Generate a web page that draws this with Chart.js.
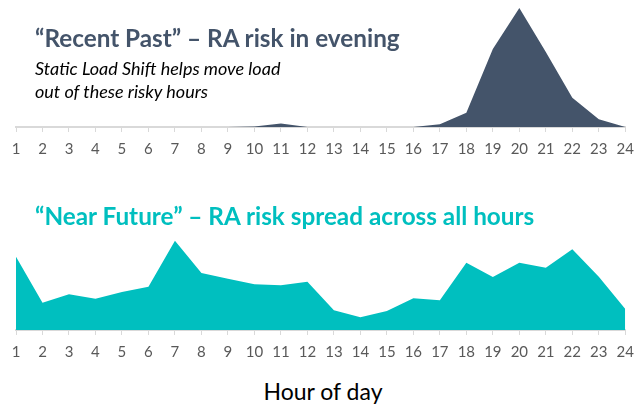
<!DOCTYPE html>
<html>
<head>
<meta charset="utf-8">
<script src="https://cdn.jsdelivr.net/npm/chart.js@4"></script>
<style>
  html, body { margin:0; padding:0; background:#fff; }
  #wrap { position:relative; width:638px; height:404px; overflow:hidden; font-family: Lato, "Open Sans", sans-serif; }
  canvas { position:absolute; left:0; }
  .t { position:absolute; white-space:nowrap; }
  #t1 { left:35px; top:23px; font-size:24.3px; font-weight:700; color:#44546A; z-index:2; }
  #s1 { left:35px; top:57px; font-size:18px; font-style:italic; color:#000; line-height:23px; z-index:2; }
  #t2 { left:35px; top:201px; font-size:24.3px; font-weight:700; color:#00BFBF; z-index:2; }
  #xl { left:0; width:646px; text-align:center; top:377px; font-size:23px; color:#000; z-index:2; }
</style>
</head>
<body>
<div id="wrap">
  <canvas id="c1" width="642" height="170" style="top:0px"></canvas>
  <canvas id="c2" width="642" height="170" style="top:200px"></canvas>
  <div class="t" id="t1">“Recent Past” – RA risk in evening</div>
  <div class="t" id="s1">Static Load Shift helps move load<br>out of these risky hours</div>
  <div class="t" id="t2">“Near Future” – RA risk spread across all hours</div>
  <div class="t" id="xl">Hour of day</div>
</div>
<script>
const hours = ["1","2","3","4","5","6","7","8","9","10","11","12","13","14","15","16","17","18","19","20","21","22","23","24"];
const recentPast = [0,0,0,0,0,0,0,0,0,0.5,3.5,0,0,0,0,0,2.7,14.3,78,119,75,29.3,7.7,0];
const nearFuture = [73.3,27.3,35.7,31.3,38,43.3,89.3,57,51.3,45.7,44.7,48.3,19.7,12.7,19,31.7,29.7,67.3,53,67.3,62.3,80.7,53.3,21];

function makeChart(id, data, color, ymax, padTop, axisH) {
  return new Chart(document.getElementById(id), {
    type: 'line',
    data: { labels: hours, datasets: [{ data: data, fill: 'origin', backgroundColor: color, borderColor: color, borderWidth: 0, pointRadius: 0, tension: 0 }] },
    options: {
      responsive: false, animation: false, events: [],
      layout: { padding: { left: 16, right: 0, top: padTop, bottom: 0 } },
      plugins: { legend: { display: false }, tooltip: { enabled: false } },
      scales: {
        x: {
          offset: false,
          grid: { drawOnChartArea: false, drawTicks: true, tickLength: 5, color: '#D9D9D9', lineWidth: 1 },
          border: { display: true, color: '#D9D9D9', width: 2 },
          ticks: { color: '#595959', font: { family: 'Lato', size: 15 }, padding: 8, maxRotation: 0, autoSkip: false },
          afterFit: (s) => { s.height = axisH; }
        },
        y: { display: false, min: 0, max: ymax }
      }
    }
  });
}
makeChart('c1', recentPast, '#44546A', 119, 8, 43);
makeChart('c2', nearFuture, '#00BFBF', 100, 30, 40);
</script>
</body>
</html>
